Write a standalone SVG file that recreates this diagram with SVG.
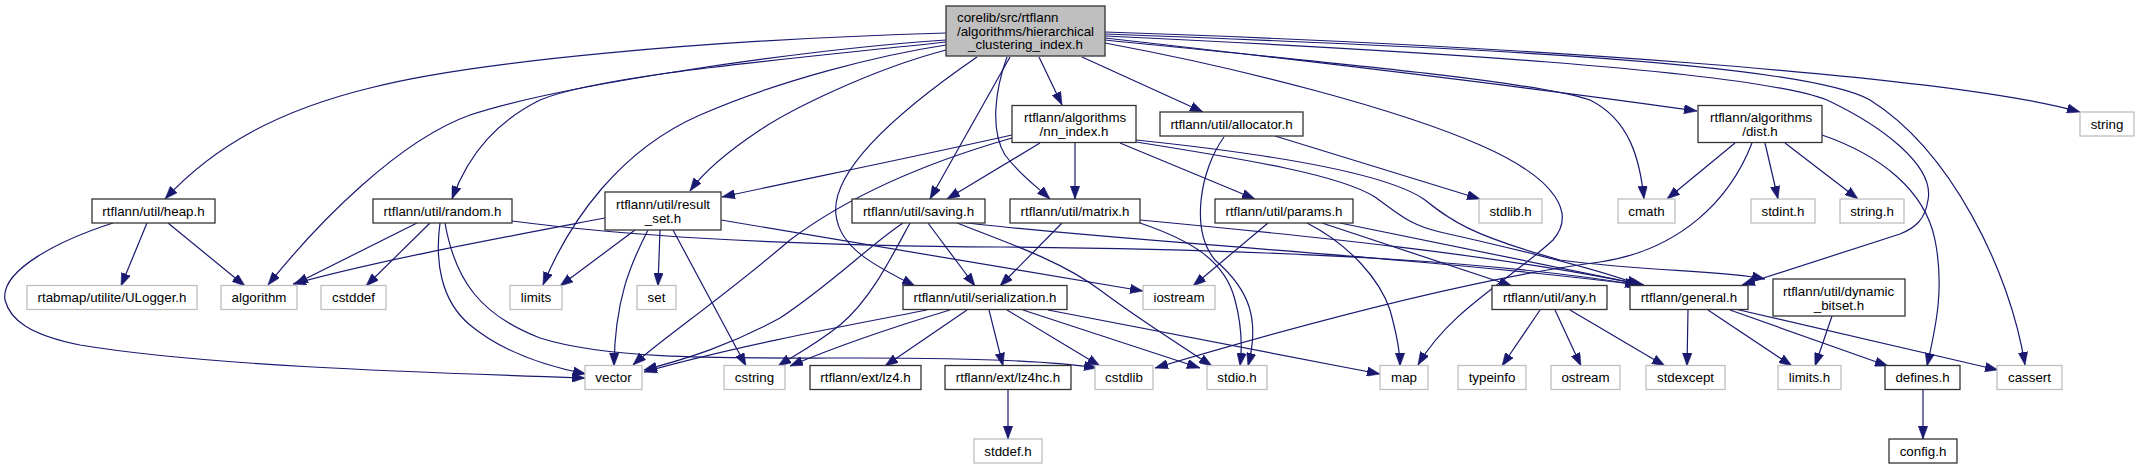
<svg xmlns="http://www.w3.org/2000/svg" width="2139" height="469" viewBox="0 0 2139 469">
<defs>
<style>
.nb rect{fill:#ffffff;stroke:#333333;stroke-width:1.3}
.ng rect{fill:#ffffff;stroke:#bfbfbf;stroke-width:1.3}
.nr rect{fill:#bfbfbf;stroke:#333333;stroke-width:1.3}
text{font-family:"Liberation Sans",Arial,Helvetica,sans-serif;font-size:13.33px;fill:#000000}
.c{text-anchor:middle}
#edges path{fill:none;stroke:#191970;stroke-width:1.2;marker-end:url(#arr)}
</style>
<marker id="arr" viewBox="0 0 13 9.5" refX="13" refY="4.75" markerWidth="13" markerHeight="9.5" markerUnits="userSpaceOnUse" orient="auto">
<path d="M0,0 L13,4.75 L0,9.5 z" fill="#191970" stroke="#191970" stroke-width="0.5"/>
</marker>
</defs>
<rect width="2139" height="469" fill="#ffffff"/>
<g id="edges">
<path d="M946,33 C700,40 470,62 370,88 C280,110 215,145 165,199"/>
<path d="M946,40 C800,50 560,85 470,115 C400,140 320,220 268,285"/>
<path d="M946,42 C780,60 600,75 540,100 C500,120 470,150 452,199"/>
<path d="M946,45 C880,55 780,80 700,115 C620,150 570,220 543,285"/>
<path d="M946,50 C870,70 790,110 760,130 C730,150 705,170 690,191"/>
<path d="M977,57 C900,110 830,170 836,215 C840,250 880,268 915,286"/>
<path d="M1010,57 L930,199"/>
<path d="M1007,57 C995,90 990,130 1005,155 C1020,175 1035,185 1050,199"/>
<path d="M1039,57 L1062,105"/>
<path d="M1082,57 L1203,112"/>
<path d="M1105,43 C1250,70 1400,110 1480,145 C1560,180 1575,215 1553,240 C1510,280 1450,310 1418,365"/>
<path d="M1105,40 C1300,60 1530,80 1590,100 C1630,120 1640,160 1644,199"/>
<path d="M1105,38 C1300,60 1550,90 1697,111"/>
<path d="M1105,36 C1400,50 1750,70 1827,100 C1880,125 1935,165 1928,200 C1925,220 1915,228 1900,234 L1742,285"/>
<path d="M1105,34 C1400,45 1800,60 1870,100 C1950,150 2010,270 2025,365"/>
<path d="M1105,32 C1500,45 1950,75 2080,112"/>
<path d="M1012,135 C900,160 800,180 722,197"/>
<path d="M1012,138 C900,170 830,210 790,240 C720,300 660,340 633,365"/>
<path d="M1040,143 L947,199"/>
<path d="M1075,143 L1075,199"/>
<path d="M1120,143 L1255,199"/>
<path d="M1136,142 C1250,160 1340,175 1375,197 C1400,215 1410,225 1440,232 C1520,250 1600,270 1640,285"/>
<path d="M1136,140 C1280,155 1390,175 1425,200 C1450,220 1470,235 1560,260 C1650,272 1720,270 1765,279"/>
<path d="M1275,136 L1480,199"/>
<path d="M1224,137 C1200,170 1190,230 1215,260 C1250,290 1260,320 1248,366"/>
<path d="M1735,143 L1667,199"/>
<path d="M1752,143 C1730,200 1680,250 1600,262 C1500,275 1350,310 1155,368"/>
<path d="M1765,143 L1778,199"/>
<path d="M1785,143 L1858,199"/>
<path d="M1822,135 C1880,155 1925,190 1935,240 C1945,290 1935,330 1927,366"/>
<path d="M147,223 L121,286"/>
<path d="M168,223 L245,286"/>
<path d="M113,223 C60,240 0,270 5,300 C10,320 30,335 80,345 C200,365 400,372 585,378"/>
<path d="M417,223 L295,284"/>
<path d="M430,223 L366,286"/>
<path d="M440,223 C435,260 440,300 470,325 C500,350 540,365 586,374"/>
<path d="M445,223 C455,280 480,315 540,338 C610,360 720,358 860,358 C990,358 1060,362 1097,368"/>
<path d="M512,221 C620,235 760,245 1000,247 C1300,250 1500,262 1638,285"/>
<path d="M605,218 C500,238 380,260 293,284"/>
<path d="M635,230 L560,286"/>
<path d="M648,230 C630,265 615,300 614,366"/>
<path d="M660,230 L658,286"/>
<path d="M673,230 L746,366"/>
<path d="M721,220 L1143,291"/>
<path d="M903,223 C870,245 830,285 780,318 C730,345 690,358 644,370"/>
<path d="M910,223 C890,260 870,300 840,325 C815,345 795,355 778,366"/>
<path d="M928,223 L975,286"/>
<path d="M957,223 C1000,240 1060,260 1100,290 C1140,320 1180,345 1212,366"/>
<path d="M960,222 C1100,240 1400,255 1640,285"/>
<path d="M1062,223 L1000,286"/>
<path d="M1140,223 C1190,240 1225,260 1235,300 C1243,330 1242,350 1240,366"/>
<path d="M1140,220 C1300,235 1500,255 1642,285"/>
<path d="M1268,223 L1193,286"/>
<path d="M1307,223 C1350,245 1380,280 1390,310 C1397,335 1400,350 1400,366"/>
<path d="M1322,223 L1512,286"/>
<path d="M1340,223 L1644,285"/>
<path d="M927,310 C850,325 740,345 644,372"/>
<path d="M950,310 C900,325 840,345 790,366"/>
<path d="M967,310 L885,366"/>
<path d="M989,310 L1003,366"/>
<path d="M1007,310 L1100,366"/>
<path d="M1023,310 L1200,368"/>
<path d="M1048,310 L1380,374"/>
<path d="M1008,390 L1008,439"/>
<path d="M1540,310 L1502,366"/>
<path d="M1555,310 L1581,366"/>
<path d="M1570,310 L1665,366"/>
<path d="M1688,310 L1687,366"/>
<path d="M1708,310 L1792,366"/>
<path d="M1730,310 L1888,366"/>
<path d="M1735,309 L1998,370"/>
<path d="M1832,316 L1815,366"/>
<path d="M1923,390 L1923,439"/>
</g>
<g id="root" class="nr"><rect x="946" y="6" width="159" height="50"/><text x="957" y="22">corelib/src/rtflann</text><text x="957" y="35.5">/algorithms/hierarchical</text><text class="c" x="1025.5" y="49">_clustering_index.h</text></g>
<g id="nn_index" class="nb"><rect x="1012" y="105.5" width="124" height="37"/><text x="1024" y="122">rtflann/algorithms</text><text class="c" x="1074" y="135.5">/nn_index.h</text></g>
<g id="allocator" class="nb"><rect x="1160" y="112" width="143" height="24"/><text class="c" x="1231.5" y="128.5">rtflann/util/allocator.h</text></g>
<g id="dist" class="nb"><rect x="1698" y="105.5" width="124" height="37"/><text x="1710" y="122">rtflann/algorithms</text><text class="c" x="1760" y="135.5">/dist.h</text></g>
<g id="string" class="ng"><rect x="2080" y="112" width="54" height="24"/><text class="c" x="2107" y="128.5">string</text></g>
<g id="heap" class="nb"><rect x="92" y="199" width="123" height="24"/><text class="c" x="153.5" y="215.5">rtflann/util/heap.h</text></g>
<g id="random" class="nb"><rect x="373" y="199" width="139" height="24"/><text class="c" x="442.5" y="215.5">rtflann/util/random.h</text></g>
<g id="result_set" class="nb"><rect x="605" y="192" width="116" height="38"/><text x="616" y="209">rtflann/util/result</text><text class="c" x="663" y="222.5">_set.h</text></g>
<g id="saving" class="nb"><rect x="852" y="199" width="133" height="24"/><text class="c" x="918.5" y="215.5">rtflann/util/saving.h</text></g>
<g id="matrix" class="nb"><rect x="1010" y="199" width="130" height="24"/><text class="c" x="1075" y="215.5">rtflann/util/matrix.h</text></g>
<g id="params" class="nb"><rect x="1215" y="199" width="138" height="24"/><text class="c" x="1284" y="215.5">rtflann/util/params.h</text></g>
<g id="stdlib_h" class="ng"><rect x="1479" y="199" width="63" height="24"/><text class="c" x="1510.5" y="215.5">stdlib.h</text></g>
<g id="cmath" class="ng"><rect x="1618" y="199" width="57" height="24"/><text class="c" x="1646.5" y="215.5">cmath</text></g>
<g id="stdint_h" class="ng"><rect x="1751" y="199" width="64" height="24"/><text class="c" x="1783" y="215.5">stdint.h</text></g>
<g id="string_h" class="ng"><rect x="1840" y="199" width="64" height="24"/><text class="c" x="1872" y="215.5">string.h</text></g>
<g id="ulogger" class="ng"><rect x="27" y="285.5" width="170" height="24"/><text class="c" x="112" y="302">rtabmap/utilite/ULogger.h</text></g>
<g id="algorithm" class="ng"><rect x="221" y="285.5" width="76" height="24"/><text class="c" x="259" y="302">algorithm</text></g>
<g id="cstddef" class="ng"><rect x="321" y="285.5" width="65" height="24"/><text class="c" x="353.5" y="302">cstddef</text></g>
<g id="limits" class="ng"><rect x="510" y="285.5" width="52" height="24"/><text class="c" x="536" y="302">limits</text></g>
<g id="set" class="ng"><rect x="637" y="285.5" width="39" height="24"/><text class="c" x="656.5" y="302">set</text></g>
<g id="serialization" class="nb"><rect x="903" y="285.5" width="164" height="24"/><text class="c" x="985" y="302">rtflann/util/serialization.h</text></g>
<g id="iostream" class="ng"><rect x="1143" y="285.5" width="72" height="24"/><text class="c" x="1179" y="302">iostream</text></g>
<g id="any" class="nb"><rect x="1492" y="285.5" width="115" height="24"/><text class="c" x="1549.5" y="302">rtflann/util/any.h</text></g>
<g id="general" class="nb"><rect x="1630" y="285.5" width="118" height="24"/><text class="c" x="1689" y="302">rtflann/general.h</text></g>
<g id="dynamic_bitset" class="nb"><rect x="1773" y="279" width="132" height="37"/><text x="1783" y="296">rtflann/util/dynamic</text><text class="c" x="1839" y="309.5">_bitset.h</text></g>
<g id="vector" class="ng"><rect x="585" y="365.5" width="57" height="24"/><text class="c" x="613.5" y="382">vector</text></g>
<g id="cstring" class="ng"><rect x="724" y="365.5" width="61" height="24"/><text class="c" x="754.5" y="382">cstring</text></g>
<g id="lz4" class="nb"><rect x="810" y="365.5" width="111" height="24"/><text class="c" x="865.5" y="382">rtflann/ext/lz4.h</text></g>
<g id="lz4hc" class="nb"><rect x="945" y="365.5" width="126" height="24"/><text class="c" x="1008" y="382">rtflann/ext/lz4hc.h</text></g>
<g id="cstdlib" class="ng"><rect x="1095" y="365.5" width="58" height="24"/><text class="c" x="1124" y="382">cstdlib</text></g>
<g id="stdio_h" class="ng"><rect x="1207" y="365.5" width="60" height="24"/><text class="c" x="1237" y="382">stdio.h</text></g>
<g id="map" class="ng"><rect x="1380" y="365.5" width="48" height="24"/><text class="c" x="1404" y="382">map</text></g>
<g id="typeinfo" class="ng"><rect x="1458" y="365.5" width="68" height="24"/><text class="c" x="1492" y="382">typeinfo</text></g>
<g id="ostream" class="ng"><rect x="1551" y="365.5" width="69" height="24"/><text class="c" x="1585.5" y="382">ostream</text></g>
<g id="stdexcept" class="ng"><rect x="1646" y="365.5" width="79" height="24"/><text class="c" x="1685.5" y="382">stdexcept</text></g>
<g id="limits_h" class="ng"><rect x="1778" y="365.5" width="63" height="24"/><text class="c" x="1809.5" y="382">limits.h</text></g>
<g id="defines" class="nb"><rect x="1885" y="365.5" width="75" height="24"/><text class="c" x="1922.5" y="382">defines.h</text></g>
<g id="cassert" class="ng"><rect x="1997" y="365.5" width="65" height="24"/><text class="c" x="2029.5" y="382">cassert</text></g>
<g id="stddef" class="ng"><rect x="974" y="439" width="68" height="24"/><text class="c" x="1008" y="455.5">stddef.h</text></g>
<g id="config" class="nb"><rect x="1889" y="439" width="68" height="24"/><text class="c" x="1923" y="455.5">config.h</text></g>
</svg>
